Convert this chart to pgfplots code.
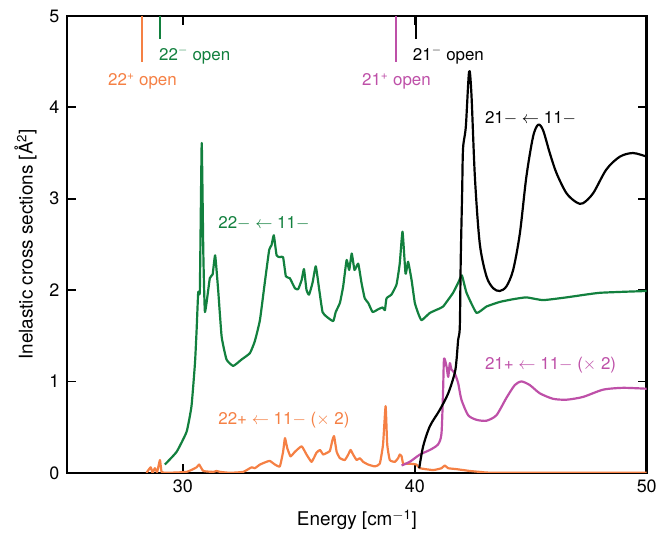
\documentclass[border=0pt]{standalone}
\usepackage{fontspec}
\setmainfont{TeX Gyre Heros}
\usepackage{pgfplots}
\pgfplotsset{compat=1.18}
\definecolor{cgreen}{RGB}{18,128,62}
\definecolor{corange}{RGB}{245,128,68}
\definecolor{cmag}{RGB}{190,80,168}
\newcommand{\fs}{\fontsize{17}{20}\selectfont}
\newcommand{\ft}{\fontsize{18}{21}\selectfont}
\newcommand{\fl}{\fontsize{19}{22}\selectfont}
\begin{document}
\begin{tikzpicture}
\begin{axis}[
  scale only axis, width=580bp, height=457bp,
  xmin=25, xmax=50, ymin=0, ymax=5,
  xtick={30,40,50}, ytick={0,1,2,3,4,5},
  tick align=inside, tick pos=both, major tick length=9bp,
  axis line style={line width=2.5pt},
  every tick/.style={black, line width=1.8pt},
  /pgf/number format/assume math mode=true,
  ticklabel style={font=\ft},
  xticklabel style={yshift=-3bp},
  yticklabel style={xshift=-4bp},
  label style={font=\fl},
  xlabel shift=11bp, ylabel shift=6bp,
  xlabel={Energy [cm\textsuperscript{$-$1}]},
  ylabel={Inelastic cross sections [Å\textsuperscript{2}]},
  every axis plot/.append style={line width=2.2pt, line join=round},
]
% threshold markers
\addplot[corange, line width=2pt] coordinates {(28.25,5) (28.25,4.5)};
\addplot[cgreen, line width=2pt] coordinates {(29.0,5) (29.0,4.75)};
\addplot[cmag, line width=2pt] coordinates {(39.18,5) (39.18,4.5)};
\addplot[black, line width=2pt] coordinates {(40.05,5) (40.05,4.75)};
% 22+ <- 11- (x2)
\addplot[corange, smooth, tension=0.25] coordinates {
(28.43,0) (28.61,0.06) (28.69,0) (28.79,0.05) (28.89,0.01) (29.01,0.14) (29.08,0.01)
(29.30,0) (30.16,0.01) (30.59,0.06) (30.70,0.09) (30.88,0.02) (31.31,0.01) (31.45,0.02) (31.60,0.01)
(32.03,0) (32.60,0.01) (32.96,0.06) (33.10,0.05) (33.32,0.09) (33.60,0.12) (33.75,0.13)
(33.97,0.09) (34.18,0.07) (34.32,0.23) (34.40,0.38) (34.50,0.27) (34.64,0.18) (34.83,0.23)
(35.12,0.29) (35.33,0.20) (35.55,0.12) (35.76,0.22) (35.91,0.25) (36.05,0.20) (36.22,0.22)
(36.34,0.24) (36.45,0.36) (36.52,0.40) (36.63,0.23) (36.77,0.16) (36.98,0.14) (37.13,0.20)
(37.23,0.25) (37.34,0.20) (37.49,0.14) (37.63,0.16) (37.77,0.12) (37.99,0.09) (38.28,0.07)
(38.49,0.10) (38.63,0.31) (38.74,0.73) (38.81,0.31) (38.92,0.14) (39.14,0.12) (39.28,0.16)
(39.35,0.20) (39.43,0.18) (39.50,0.10) (39.78,0.10) (40.07,0.09) (40.22,0.05) (40.79,0.03)
(41.15,0.05) (41.29,0.08) (41.44,0.05) (41.80,0.04) (42.37,0.02) (42.80,0.01) (43.5,0) (50,0)
};
% 22- <- 11-
\addplot[cgreen, smooth, tension=0.25] coordinates {
(29.22,0.09) (29.73,0.23) (30.16,0.45) (30.37,0.73) (30.52,1.20) (30.59,1.56) (30.66,1.98)
(30.73,2.00) (30.81,3.61) (30.88,2.40) (30.95,1.76) (31.16,2.13) (31.28,2.17) (31.39,2.38)
(31.52,2.00) (31.67,1.49) (31.88,1.24) (32.17,1.17) (32.53,1.24) (32.89,1.31) (33.10,1.44)
(33.32,1.67) (33.53,2.08) (33.72,2.44) (33.82,2.49) (33.92,2.60) (34.04,2.38) (34.18,2.36)
(34.32,2.36) (34.44,2.15) (34.61,2.13) (34.83,2.02) (34.97,2.01) (35.12,2.11) (35.22,2.23)
(35.33,2.00) (35.44,1.95) (35.59,2.08) (35.73,2.26) (35.88,2.00) (36.02,1.76) (36.19,1.71)
(36.48,1.66) (36.59,1.76) (36.77,1.86) (36.91,2.04) (37.06,2.33) (37.17,2.22) (37.28,2.40)
(37.40,2.22) (37.56,2.29) (37.70,2.08) (37.84,1.91) (37.99,1.86) (38.18,1.76) (38.42,1.79)
(38.61,1.81) (38.71,1.78) (38.78,1.91) (38.99,1.95) (39.21,2.06) (39.35,2.29) (39.47,2.64)
(39.60,2.18) (39.71,2.31) (39.86,2.11) (40.00,1.86) (40.14,1.75) (40.29,1.67) (40.65,1.75)
(41.08,1.80) (41.22,1.82) (41.37,1.87) (41.65,1.97) (41.87,2.08) (42.03,2.16) (42.23,1.97)
(42.66,1.75) (43.09,1.82) (43.66,1.87) (44.24,1.90) (44.81,1.92) (45.53,1.89) (46.54,1.92)
(47.97,1.97) (50.0,1.99)
};
% 21+ <- 11- (x2)
\addplot[cmag, smooth, tension=0.4] coordinates {
(39.43,0.08) (39.78,0.12) (40.22,0.20) (40.65,0.25) (41.00,0.31) (41.15,0.43) (41.22,0.91)
(41.26,1.25) (41.37,1.16) (41.44,1.05) (41.51,1.20) (41.58,1.13) (41.72,1.09) (41.87,0.98)
(42.01,0.80) (42.30,0.63) (42.66,0.58) (43.09,0.57) (43.52,0.63) (43.95,0.82) (44.31,0.96)
(44.60,1.00) (44.96,0.96) (45.39,0.87) (45.96,0.81) (46.54,0.80) (47.25,0.83) (48.12,0.91)
(48.98,0.93) (50.0,0.92)
};
% 21- <- 11-
\addplot[black, smooth, tension=0.5] coordinates {
(40.19,0.05) (40.36,0.29) (40.65,0.51) (41.08,0.69) (41.44,0.87) (41.72,1.09) (41.80,1.24)
(41.87,1.46) (41.94,1.60) (41.98,2.33) (42.04,3.06) (42.08,3.55) (42.20,3.79) (42.34,4.39)
(42.44,4.15) (42.59,3.24) (42.80,2.51) (43.09,2.15) (43.38,2.02) (43.66,1.99) (43.95,2.04)
(44.24,2.22) (44.53,2.62) (44.81,3.24) (45.10,3.68) (45.32,3.81) (45.53,3.75) (45.82,3.50)
(46.11,3.28) (46.54,3.06) (46.97,2.96) (47.25,2.95) (47.69,3.06) (48.26,3.32) (48.84,3.46)
(49.41,3.50) (50.0,3.46)
};
% labels
\node[anchor=west, text=cgreen, font=\fs, inner sep=0pt] at (axis cs:28.97,4.57) {22\textsuperscript{$-$} open};
\node[anchor=west, text=corange, font=\fs, inner sep=0pt] at (axis cs:26.77,4.28) {22\textsuperscript{+} open};
\node[anchor=west, text=cmag, font=\fs, inner sep=0pt] at (axis cs:37.72,4.28) {21\textsuperscript{+} open};
\node[anchor=west, text=black, font=\fs, inner sep=0pt] at (axis cs:39.91,4.57) {21\textsuperscript{$-$} open};
\node[anchor=west, text=black, font=\fs, inner sep=0pt] at (axis cs:43.02,3.88) {21$-$ $\leftarrow$ 11$-$};
\node[anchor=west, text=cgreen, font=\fs, inner sep=0pt] at (axis cs:31.52,2.73) {22$-$ $\leftarrow$ 11$-$};
\node[anchor=west, text=corange, font=\fs, inner sep=0pt] at (axis cs:31.52,0.58) {22+ $\leftarrow$ 11$-$ ($\times$ 2)};
\node[anchor=west, text=cmag, font=\fs, inner sep=0pt] at (axis cs:43.02,1.18) {21+ $\leftarrow$ 11$-$ ($\times$ 2)};
\end{axis}
\path ([shift={(-67bp,-61bp)}]current axis.south west) rectangle ([shift={(13bp,16bp)}]current axis.north east);
\end{tikzpicture}
\end{document}
